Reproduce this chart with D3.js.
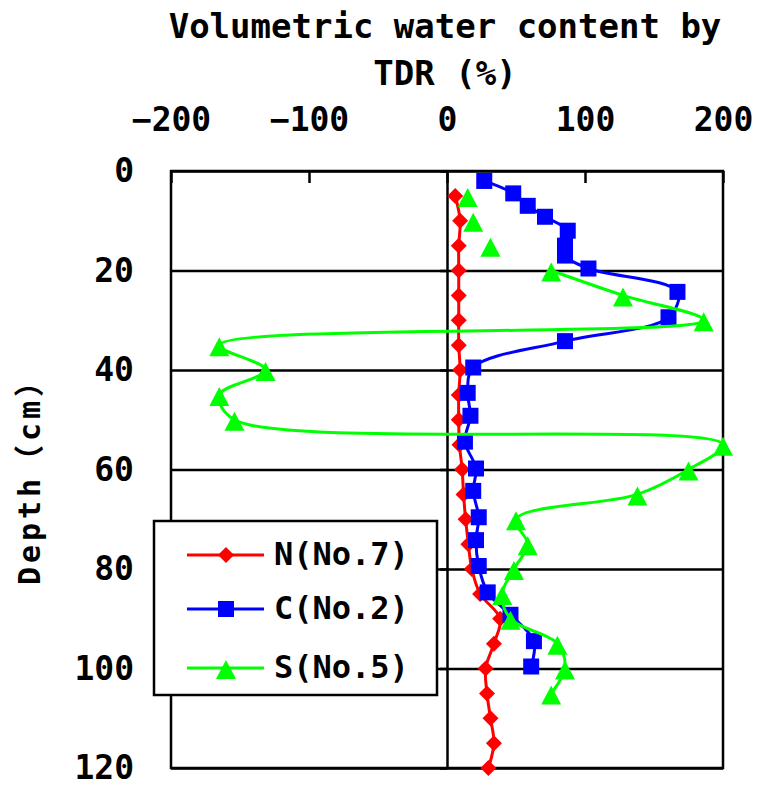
<!DOCTYPE html>
<html>
<head>
<meta charset="utf-8">
<script src="https://cdn.jsdelivr.net/npm/d3@7"></script>
<style>
  body { margin: 0; background: #fff; }
  text { font-family: "DejaVu Sans Mono", "Noto Sans CJK JP", monospace; font-weight: bold; fill: #000; }
</style>
</head>
<body>
<div id="chart"></div>
<script>
// values (depth in cm, water content in %)
const nDepth = [5,10,15,20,25,30,35,40,45,50,55,60,65,70,75,80,85,90,95,100,105,110,115,120];
const nValue = [6,9.5,8.5,8.5,8.5,8.5,8.5,9.5,8.5,8.5,9,11,12,13.5,15.5,18,24,38.5,34,28,29,31.5,34,30];

const cDepth = [2,4.5,7,9.2,12,15,17,19.6,24.3,29.4,34.2,39.5,44.6,49.2,54.4,59.8,64.3,69.6,74.2,79.4,84.7,89.2,94.5,99.6];
const cValue = [27,48,58.5,71,87.5,85.5,85.5,102.5,167,160.5,85.5,19,15,17,13,21,19,23,21,23,29.5,46,63,61];

const sDepth = [5,10,15,20,25,30,35,40,45,50,55,60,65,70,75,80,85,90,95,100,105];
const sValue = [15,19,31.5,75.5,127.5,186,-165,-131.5,-165,-154,200,175,138,50,58.5,48.5,40,46,80,85.5,75.5];
// the S line is not joined after these depths
const sBreakAfter = [5,10,15];

const seriesNames = ["N(No.7)","C(No.2)","S(No.5)"];
const seriesColors = ["#ff0000","#0000ff","#00ff00"];
const xTicks = [-200,-100,0,100,200];
const yTicks = [0,20,40,60,80,100,120];

const W = 758, H = 788;
const plotL = 171, plotR = 723, plotT = 171, plotB = 768;

const svg = d3.select("#chart").append("svg")
    .attr("width", W)
    .attr("height", H);

const x = d3.scaleLinear().domain([-200,200]).range([plotL,plotR]);
const y = d3.scaleLinear().domain([0,120]).range([plotT,plotB]);

// title
svg.append("text").attr("x",445).attr("y",38).attr("text-anchor","middle")
   .attr("font-size",34).text("Volumetric water content by");
svg.append("text").attr("x",445).attr("y",85).attr("text-anchor","middle")
   .attr("font-size",34).text("TDR (%)");

// horizontal grid lines
svg.append("g")
   .attr("transform","translate(" + plotL + ",0)")
   .call(d3.axisLeft(y).tickValues(yTicks).tickSize(-(plotR-plotL)).tickFormat(""))
   .call(g => g.select(".domain").remove())
   .selectAll("line").attr("stroke","#000").attr("stroke-width",2.5);

// frame
svg.append("rect")
   .attr("x",plotL).attr("y",plotT)
   .attr("width",plotR-plotL).attr("height",plotB-plotT)
   .attr("fill","none").attr("stroke","#000").attr("stroke-width",2.5);

// top axis, ticks pointing inside
const xAxis = svg.append("g")
   .attr("transform","translate(0," + plotT + ")")
   .call(d3.axisTop(x).tickValues(xTicks).tickSizeInner(-12).tickSizeOuter(0).tickPadding(40));
xAxis.select(".domain").remove();
xAxis.selectAll("line").attr("stroke","#000").attr("stroke-width",2.5);
xAxis.selectAll("text").attr("font-size",33).attr("fill","#000")
   .style("font-family",'"DejaVu Sans Mono", monospace').style("font-weight","bold");

// vertical axis line crossing at 0
const yAxis = svg.append("g")
   .attr("transform","translate(" + x(0) + ",0)")
   .call(d3.axisLeft(y).tickValues(yTicks).tickSizeInner(7).tickSizeOuter(0).tickFormat(""));
yAxis.selectAll("line, path").attr("stroke","#000").attr("stroke-width",2.5);

// depth labels, low side
const yLabels = svg.append("g")
   .attr("transform","translate(" + plotL + ",0)")
   .call(d3.axisLeft(y).tickValues(yTicks).tickSize(0).tickPadding(37));
yLabels.select(".domain").remove();
yLabels.selectAll("text").attr("font-size",33).attr("dy","0.33em").attr("fill","#000")
   .style("font-family",'"DejaVu Sans Mono", monospace').style("font-weight","bold");

svg.append("text")
   .attr("transform","translate(40,476) rotate(-90)")
   .attr("text-anchor","middle")
   .attr("font-size",30)
   .attr("textLength",218).attr("lengthAdjust","spacing")
   .text("Depth（cm）");

// markers
const diamond = "M0,-8L8,0L0,8L-8,0Z";
const square = "M-8,-8H8V8H-8Z";
const triangle = "M0,-8L10,11L-10,11Z";
const shapes = [diamond, square, triangle];

const line = d3.line()
   .x(d => x(d.v))
   .y(d => y(d.d))
   .curve(d3.curveCatmullRom.alpha(0.5));

function drawSeries(depths, values, breaks, i) {
  const pts = depths.map((d,k) => ({d: d, v: values[k]}));
  const segs = [[]];
  pts.forEach(p => {
    segs[segs.length-1].push(p);
    if (breaks.includes(p.d)) segs.push([]);
  });
  const g = svg.append("g");
  g.selectAll("path.line")
    .data(segs.filter(s => s.length > 1))
    .enter().append("path")
    .attr("class","line")
    .attr("fill","none")
    .attr("stroke",seriesColors[i])
    .attr("stroke-width",3)
    .attr("d",line);
  g.selectAll("path.mark")
    .data(pts)
    .enter().append("path")
    .attr("class","mark")
    .attr("fill",seriesColors[i])
    .attr("transform",d => "translate(" + x(d.v) + "," + y(d.d) + ")")
    .attr("d",shapes[i]);
}

drawSeries(nDepth, nValue, [], 0);
drawSeries(cDepth, cValue, [], 1);
drawSeries(sDepth, sValue, sBreakAfter, 2);

// legend
const legend = svg.append("g");
legend.append("rect")
   .attr("x",154).attr("y",521).attr("width",283).attr("height",174)
   .attr("fill","#fff").attr("stroke","#000").attr("stroke-width",2.5);

const rowY = [555,609,668];
const rows = legend.selectAll("g.row")
   .data(seriesNames)
   .enter().append("g")
   .attr("class","row")
   .attr("transform",(d,i) => "translate(0," + rowY[i] + ")");
rows.append("line")
   .attr("x1",187).attr("x2",264)
   .attr("stroke",(d,i) => seriesColors[i]).attr("stroke-width",3);
rows.append("path")
   .attr("transform","translate(226,0)")
   .attr("fill",(d,i) => seriesColors[i])
   .attr("d",(d,i) => shapes[i]);
rows.append("text")
   .attr("x",274).attr("y",10)
   .attr("font-size",32)
   .text(d => d);
</script>
</body>
</html>
